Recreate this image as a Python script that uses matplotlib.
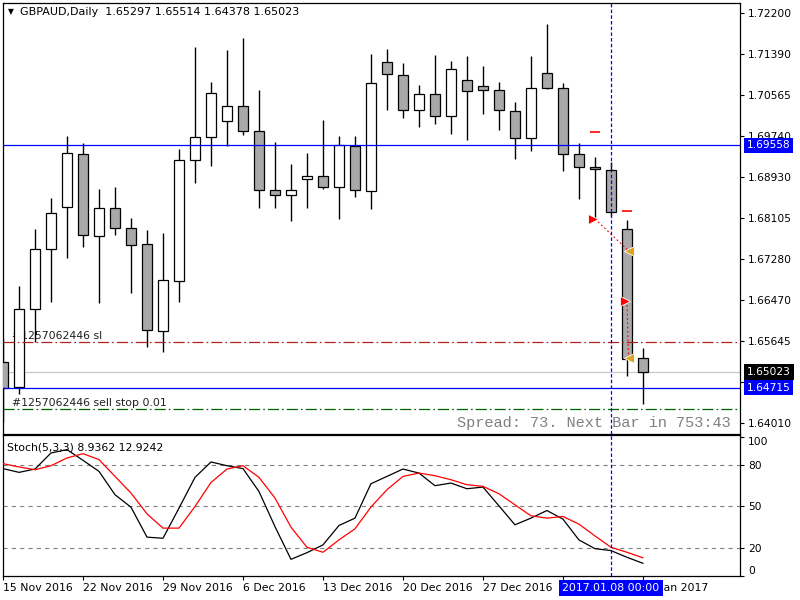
import numpy as np
import matplotlib
matplotlib.use("Agg")
import matplotlib.pyplot as plt
from matplotlib.transforms import blended_transform_factory

plt.rcParams['font.family'] = ['DejaVu Sans']
plt.rcParams['lines.scale_dashes'] = False

# daily candles, GBPAUD
opens = [1.6523, 1.6473, 1.6628, 1.6748, 1.6832, 1.6938, 1.6774, 1.6830, 1.6790, 1.6758,
         1.6584, 1.6684, 1.6926, 1.6973, 1.7004, 1.7034, 1.6984, 1.6866, 1.6856, 1.6888,
         1.6894, 1.6872, 1.6954, 1.6864, 1.7122, 1.7096, 1.7026, 1.7058, 1.7014, 1.7086,
         1.7074, 1.7066, 1.7024, 1.6970, 1.7100, 1.7070, 1.6938, 1.6912, 1.6906, 1.6788,
         1.65297]
highs = [1.6570, 1.6675, 1.6789, 1.6851, 1.6975, 1.6960, 1.6868, 1.6872, 1.6810, 1.6787,
         1.6780, 1.6949, 1.7152, 1.7083, 1.7146, 1.7170, 1.7067, 1.6963, 1.6919, 1.6941,
         1.7007, 1.6975, 1.6975, 1.7139, 1.7148, 1.7120, 1.7076, 1.7137, 1.7124, 1.7135,
         1.7114, 1.7082, 1.7042, 1.7134, 1.7198, 1.7080, 1.6961, 1.6932, 1.6923, 1.6807,
         1.65514]
lows = [1.6402, 1.6459, 1.6563, 1.6643, 1.6730, 1.6753, 1.6641, 1.6777, 1.6661, 1.6553,
        1.6543, 1.6643, 1.6881, 1.6915, 1.6954, 1.6977, 1.6831, 1.6831, 1.6805, 1.6831,
        1.6868, 1.6809, 1.6852, 1.6828, 1.7026, 1.7011, 1.6993, 1.6999, 1.6979, 1.6967,
        1.7019, 1.6987, 1.6929, 1.6944, 1.7068, 1.6905, 1.6849, 1.6810, 1.6815, 1.6495,
        1.64378]
closes = [1.6471, 1.6628, 1.6748, 1.6820, 1.6940, 1.6776, 1.6830, 1.6790, 1.6756, 1.6586,
          1.6686, 1.6926, 1.6972, 1.7060, 1.7034, 1.6984, 1.6866, 1.6856, 1.6866, 1.6894,
          1.6872, 1.6956, 1.6866, 1.7080, 1.7098, 1.7026, 1.7058, 1.7014, 1.7108, 1.7064,
          1.7066, 1.7026, 1.6970, 1.7070, 1.7070, 1.6938, 1.6912, 1.6908, 1.6822, 1.6528,
          1.65023]

# Stoch(5,3,3) main (black) and signal (red)
stoch_k = [77.2, 74.5, 76.9, 88.5, 90.9, 83.2, 75.2, 58.4, 49.4, 27.8,
           27.0, 48.7, 70.9, 82.0, 79.3, 77.2, 60.7, 35.4, 11.8, 16.6,
           22.2, 36.2, 41.5, 66.3, 71.6, 76.9, 74.0, 64.9, 66.8, 62.7,
           63.9, 50.4, 36.7, 41.5, 47.0, 40.8, 25.8, 19.5, 18.1, 13.3,
           8.9362]
stoch_d = [80.8, 78.4, 76.4, 79.3, 84.9, 88.0, 83.7, 71.6, 59.6, 44.6,
           34.3, 34.3, 49.9, 67.2, 76.9, 79.3, 70.9, 56.0, 35.0, 20.5,
           16.9, 25.8, 33.8, 49.5, 62.0, 71.6, 74.0, 72.1, 69.2, 65.6,
           64.4, 59.1, 51.1, 43.2, 41.5, 42.7, 37.2, 28.7, 20.5, 16.9,
           12.9242]

price_ticks = [1.72200, 1.71390, 1.70565, 1.69740, 1.68930, 1.68105, 1.67280,
               1.66470, 1.65645, 1.64835, 1.64010]
# 1.64835 sits under the bid / line labels, so its text is left out
price_tick_labels = ["1.72200", "1.71390", "1.70565", "1.69740", "1.68930", "1.68105",
                     "1.67280", "1.66470", "1.65645", "", "1.64010"]
date_tick_pos = [0, 5, 10, 15, 20, 25, 30, 35, 40]
# the label at bar 35 is covered by the crosshair date box
date_tick_labels = ["15 Nov 2016", "22 Nov 2016", "29 Nov 2016", "6 Dec 2016",
                    "13 Dec 2016", "20 Dec 2016", "27 Dec 2016", "", "10 Jan 2017"]
stoch_levels = [20, 50, 80]

hline_blue = [1.69558, 1.64715]
bid = 1.65023
sl_level = 1.65630
stop_level = 1.64290

# trade marks: (bar, price)
open_arrows = [(36.85, 1.68090), (38.85, 1.66450)]
close_marks = [(39.1, 1.67450), (39.1, 1.65300)]
stop_dashes = [(37.0, 1.69820), (39.0, 1.68240)]
cross_bar = 38

W, H = 800, 600
fig = plt.figure(figsize=(8, 6), dpi=100)
fig.patch.set_facecolor('white')

left_px, right_px = 2.7, 740.5
ax = fig.add_axes([left_px / W, 1 - 433.5 / H, (right_px - left_px) / W, (433.5 - 2.5) / H])
ax2 = fig.add_axes([left_px / W, 1 - 575.7 / H, (right_px - left_px) / W, (575.7 - 435.2) / H])

x = np.arange(len(opens))
o = np.array(opens); c = np.array(closes)
up = c >= o
body_lo = np.minimum(o, c)
body_h = np.abs(c - o)

ax.vlines(x, lows, highs, color='black', lw=1.0, zorder=3)
ax.bar(x, body_h, bottom=body_lo, width=0.64,
       color=np.where(up, 'white', '#a9a9a9'), edgecolor='black', linewidth=0.9, zorder=4)

# level lines
ax.axhline(bid, color='#c8c8c8', lw=0.9, zorder=1)
for lv in hline_blue:
    ax.axhline(lv, color='#0000ff', lw=0.9, zorder=5)
ax.axhline(sl_level, color='#b22222', lw=0.9, ls=(0, (8, 2.2, 1.2, 2.2)), zorder=5)
ax.axhline(stop_level, color='#006400', lw=0.9, ls=(0, (8, 2.2, 1.2, 2.2)), zorder=5)

# trades
for (ax0, ay0), (cx0, cy0) in zip(open_arrows, close_marks):
    ax.plot([ax0 + 0.15, cx0], [ay0, cy0], color='red', lw=0.8, ls=(0, (1.3, 1.8)), zorder=6)
for bx, by in open_arrows:
    ax.plot(bx, by, marker='>', color='red', ms=6.5, mec='white', mew=0.6, zorder=7)
for bx, by in close_marks:
    ax.plot(bx, by, marker='<', color='#daa520', ms=6.5, mec='white', mew=0.6, zorder=7)
for bx, by in stop_dashes:
    ax.plot(bx, by, marker='_', color='red', ms=7, mew=1.2, zorder=7)

ax.axvline(cross_bar, color='#0000ff', lw=0.9, ls=(0, (2.5, 1.6)), zorder=8)

ax.set_xlim(-0.02, 46.1)
ax.set_ylim(1.63796, 1.72416)
ax.set_xticks([])
ax.yaxis.tick_right()
ax.set_yticks(price_ticks)
ax.set_yticklabels(price_tick_labels)
ax.tick_params(axis='y', direction='out', length=3, width=0.8, pad=2.5, labelsize=7.7, colors='black')
for s in ax.spines.values():
    s.set_linewidth(0.9)

# price labels on the right axis
yt = blended_transform_factory(ax.transAxes, ax.transData)
lbl_x = 1.0 + 6.5 / (right_px - left_px)
for val, bg in [(hline_blue[0], '#0000ff'), (bid, 'black'), (hline_blue[1], '#0000ff')]:
    ax.text(lbl_x, val, "%.5f" % val, transform=yt, color='white', fontsize=7.7,
            va='center', ha='left', zorder=10, clip_on=False,
            bbox=dict(boxstyle='square,pad=0.25', fc=bg, ec='none'))

# order labels
ax.text(0.0126, sl_level + 0.0002, "#1257062446 sl", transform=yt, fontsize=7.8,
        color='#202020', va='bottom', ha='left', zorder=2)
ax.text(0.0126, stop_level + 0.0002, "#1257062446 sell stop 0.01", transform=yt, fontsize=7.8,
        color='#202020', va='bottom', ha='left', zorder=2)
ax.text(0.987, 0.0244, "Spread: 73. Next Bar in 753:43", transform=ax.transAxes,
        fontsize=11, family='Liberation Mono', color='#808080', ha='right', va='center', zorder=9)

fig.text(8 / W, 1 - 12 / H, "\u25bc", fontsize=5.5, va='center', ha='left')
fig.text(20.5 / W, 1 - 12 / H, "GBPAUD,Daily  1.65297 1.65514 1.64378 1.65023",
         fontsize=8.0, va='center', ha='left')

# stochastic window
ax2.plot(x, stoch_k, color='black', lw=0.9, zorder=4)
ax2.plot(x, stoch_d, color='red', lw=0.9, zorder=4)
for lv in stoch_levels:
    ax2.axhline(lv, color='#808080', lw=0.8, ls=(0, (3, 3)), zorder=2)
ax2.axvline(cross_bar, color='#0000ff', lw=0.9, ls=(0, (2.5, 1.6)), zorder=8)
ax2.set_xlim(-0.02, 46.1)
ax2.set_ylim(0, 101.3)
ax2.yaxis.tick_right()
ax2.set_yticks([100, 80, 50, 20, 0])
ax2.set_yticklabels(["100", "80", "50", "20", "0"])
ax2.tick_params(axis='y', direction='out', length=3, width=0.8, pad=2.5, labelsize=7.7)
for t in ax2.get_yticklabels():
    if t.get_text() == "100":
        t.set_va('top')
    elif t.get_text() == "0":
        t.set_va('bottom')
ax2.set_xticks(date_tick_pos)
ax2.set_xticklabels(date_tick_labels)
ax2.tick_params(axis='x', direction='out', length=3, width=0.8, pad=2.5, labelsize=7.8)
for t in ax2.get_xticklabels():
    t.set_ha('left')
for s in ax2.spines.values():
    s.set_linewidth(0.9)
ax2.text(0.006, 0.915, "Stoch(5,3,3) 8.9362 12.9242", transform=ax2.transAxes,
         fontsize=7.8, va='center', ha='left')

# crosshair date box
xt = blended_transform_factory(ax2.transData, fig.transFigure)
fig.text(cross_bar, 1 - 588 / H, "2017.01.08 00:00", transform=xt, color='white', fontsize=7.8,
         ha='center', va='center', zorder=20,
         bbox=dict(boxstyle='square,pad=0.3', fc='#0000ff', ec='none'))

fig.savefig("out.png", dpi=100, facecolor='white')
